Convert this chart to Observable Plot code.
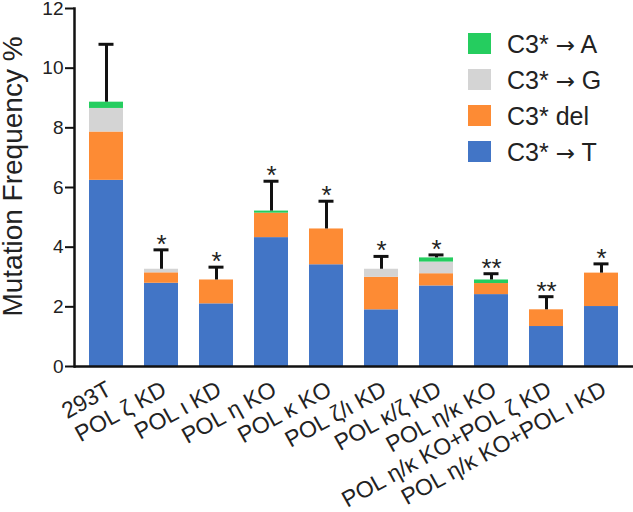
<!DOCTYPE html>
<html><head><meta charset="utf-8">
<script src="https://cdn.jsdelivr.net/npm/d3@7"></script>
<script src="https://cdn.jsdelivr.net/npm/@observablehq/plot@0.6"></script>
<style>
body{margin:0;background:#fff;font-family:"Liberation Sans",Arial,sans-serif;}
#wrap{position:relative;width:633px;height:512px;}
#legend{position:absolute;left:468px;top:26px;}
#legend .row{display:flex;align-items:center;height:36px;}
#legend .sw{width:23px;height:21px;margin-right:16px;margin-top:-2px;}
#legend .lab{font-size:25px;color:#222;line-height:1;white-space:pre;}
#legend .arr{font-family:"DejaVu Sans";font-size:23px;}
</style></head><body><div id="wrap"></div>
<script>
const categories = ["293T","POL ζ KD","POL ι KD","POL η KO","POL κ KO","POL ζ/ι KD","POL κ/ζ KD","POL η/κ KO","POL η/κ KO+POL ζ KD","POL η/κ KO+POL ι KD"];
const types = ["C3* → T","C3* del","C3* → G","C3* → A"];
const colors = ["#4275c6","#fd8b34","#d4d4d4","#25cd5f"];
const freqT   = [6.24,2.79,2.10,4.32,3.41,1.90,2.70,2.41,1.34,2.01];
const freqDel = [1.62,0.35,0.80,0.82,1.20,1.09,0.41,0.37,0.56,1.12];
const freqG   = [0.79,0.12,0,0,0,0.27,0.39,0,0,0];
const freqA   = [0.21,0,0,0.07,0,0,0.14,0.12,0,0];
const errorSD = [1.94,0.65,0.43,1.00,0.93,0.43,0.10,0.21,0.44,0.31];
const significance = ["","*","*","*","*","*","*","**","**","*"];
const yTicks = [0,2,4,6,8,10,12];
const yLabel = "Mutation Frequency %";

const series = [freqT, freqDel, freqG, freqA];
const stacked = [];
categories.forEach((c, i) => {
  types.forEach((t, k) => stacked.push({cat: c, type: t, value: series[k][i]}));
});
const totals = categories.map((c, i) => ({
  cat: c,
  total: freqT[i] + freqDel[i] + freqG[i] + freqA[i],
  top: freqT[i] + freqDel[i] + freqG[i] + freqA[i] + errorSD[i],
  sig: significance[i]
}));

const chart = Plot.plot({
  width: 633, height: 512,
  marginLeft: 74, marginRight: 0, marginTop: 8, marginBottom: 146,
  style: {fontFamily: '"Liberation Sans", Arial, sans-serif', background: "#fff", color: "#222", overflow: "visible"},
  x: {domain: categories, paddingInner: 0.373, paddingOuter: 0.215},
  y: {domain: [0, 12]},
  color: {domain: types, range: colors},
  marks: [
    Plot.barY(stacked, {x: "cat", y: "value", fill: "type"}),
    Plot.ruleX(totals, {x: "cat", y1: "total", y2: "top", stroke: "#111", strokeWidth: 3}),
    Plot.tickY(totals, {x: "cat", y: "top", stroke: "#111", strokeWidth: 3, insetLeft: 9.5, insetRight: 9.5}),
    Plot.text(totals, {x: "cat", y: "top", text: "sig", fontSize: 26, lineAnchor: "bottom", dy: 3, fill: "#222"}),
    Plot.ruleY([0], {stroke: "#111", strokeWidth: 2.5}),
    Plot.frame({anchor: "left", stroke: "#111", strokeWidth: 2.5}),
    Plot.axisY({ticks: yTicks, tickSize: 9, tickPadding: 2, fontSize: 19, label: null, stroke: "#111", strokeWidth: 2}),
    Plot.axisX({tickSize: 0, tickPadding: 21, tickRotate: -29, fontSize: 23, label: null, dx: 3}),
    Plot.text([yLabel], {frameAnchor: "left", textAnchor: "middle", rotate: -90, lineAnchor: "top", dx: -72, dy: -11, fontSize: 28, fill: "#222"})
  ]
});

const wrap = document.getElementById("wrap");
wrap.appendChild(chart);
const legend = d3.select(wrap).append("div").attr("id", "legend");
const order = types.map((t, k) => ({t, c: colors[k]})).reverse();
const rows = legend.selectAll(".row").data(order).join("div").attr("class", "row");
rows.append("div").attr("class", "sw").style("background", d => d.c);
rows.append("div").attr("class", "lab").each(function(d) {
  const parts = d.t.split("→");
  const el = d3.select(this);
  el.append("span").text(parts[0]);
  if (parts.length > 1) {
    el.append("span").attr("class", "arr").text("→");
    el.append("span").text(parts[1]);
  }
});
</script>
</body></html>
